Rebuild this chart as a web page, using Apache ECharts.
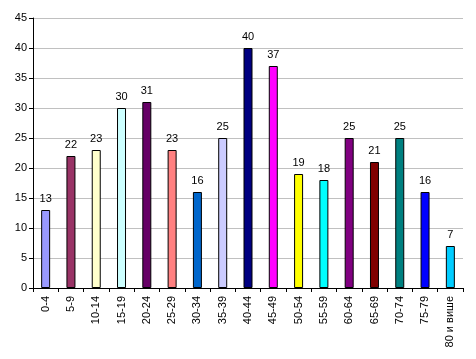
<!DOCTYPE html>
<html><head><meta charset="utf-8">
<script src="https://cdn.jsdelivr.net/npm/echarts@6/dist/echarts.min.js"></script>
<style>html,body{margin:0;padding:0;background:#fff}#c{width:476px;height:359px}</style>
</head><body><div id="c"></div>
<script>
const categories = ['0-4','5-9','10-14','15-19','20-24','25-29','30-34','35-39','40-44','45-49','50-54','55-59','60-64','65-69','70-74','75-79','80 и више'];
const values = [13,22,23,30,31,23,16,25,40,37,19,18,25,21,25,16,7];
const colors = ['#9999FF','#993366','#FFFFCC','#CCFFFF','#660066','#FF8080','#0066CC','#CCCCFF','#000080','#FF00FF','#FFFF00','#00FFFF','#800080','#800000','#008080','#0000FF','#00CCFF'];
const yTicks = [0,5,10,15,20,25,30,35,40,45];

const chart = echarts.init(document.getElementById('c'), null, {renderer:'canvas'});
const font = 'Liberation Sans, Arial, sans-serif';
chart.setOption({
  animation:false,
  backgroundColor:'#fff',
  grid:{left:33,right:13,top:18,bottom:71,containLabel:false},
  xAxis:{
    type:'category', data:categories,
    axisLine:{lineStyle:{color:'#000',width:1}},
    axisTick:{show:true,alignWithLabel:false,length:4,lineStyle:{color:'#000'}},
    axisLabel:{rotate:90,color:'#000',fontFamily:font,fontSize:11,margin:8,interval:0},
    splitLine:{show:false}
  },
  yAxis:{
    type:'value', min:yTicks[0], max:yTicks[yTicks.length-1], interval:5,
    axisLine:{show:true,lineStyle:{color:'#000',width:1}},
    axisTick:{show:true,length:4,inside:false,lineStyle:{color:'#000'}},
    axisLabel:{color:'#000',fontFamily:font,fontSize:11,margin:6},
    splitLine:{show:true,lineStyle:{color:'#c0c0c0',width:1}}
  },
  series:[{
    type:'bar',
    data:values.map((v,i)=>({value:v,itemStyle:{color:colors[i]}})),
    barWidth:9,
    itemStyle:{borderColor:'#000',borderWidth:1},
    label:{show:true,position:'top',color:'#000',fontFamily:font,fontSize:11,distance:6}
  }]
});
</script></body></html>
